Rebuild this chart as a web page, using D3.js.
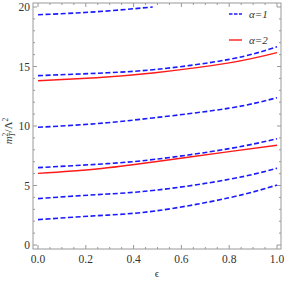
<!DOCTYPE html>
<html><head><meta charset="utf-8">
<script src="https://cdn.jsdelivr.net/npm/d3@7"></script>
<style>body{margin:0;background:#fff}svg{display:block}</style>
</head><body>
<script>
const eps = [0, 0.245, 0.49, 0.8, 1.0];
const a1_c1 = [2.13, 2.46, 2.86, 3.97, 5.04];
const a1_c2 = [3.9, 4.23, 4.6, 5.52, 6.45];
const a1_c3 = [6.5, 6.78, 7.2, 8.1, 8.93];
const a1_c4 = [9.89, 10.2, 10.7, 11.5, 12.38];
const a1_c5 = [14.23, 14.43, 14.75, 15.6, 16.66];
const a1_c6eps = [0, 0.245, 0.48];
const a1_c6 = [19.35, 19.6, 20.0];
const a2_c1 = [6.02, 6.39, 7.0, 7.85, 8.38];
const a2_c2 = [13.8, 14.06, 14.48, 15.3, 16.16];
const xTicks = [0, 0.2, 0.4, 0.6, 0.8, 1.0];
const yTicks = [0, 5, 10, 15, 20];

const W = 284, H = 282;
const svg = d3.select("body").append("svg").attr("width", W).attr("height", H);
const x = d3.scaleLinear().domain([0, 1]).range([38, 277]);
const y = d3.scaleLinear().domain([0, 20]).range([245, 7]);
const fL = 33, fR = 281, fT = 3, fB = 249;
const axCol = "#999";

svg.append("rect").attr("x", fL).attr("y", fT).attr("width", fR - fL).attr("height", fB - fT)
  .attr("fill", "none").attr("stroke", axCol).attr("stroke-width", 1);

const g = svg.append("g");
const xMinor = d3.range(0, 1.0001, 0.05);
xMinor.forEach(v => {
  const major = xTicks.some(t => Math.abs(t - v) < 1e-6);
  const len = major ? 4 : 2;
  g.append("line").attr("x1", x(v)).attr("x2", x(v)).attr("y1", fB).attr("y2", fB - len).attr("stroke", axCol);
  g.append("line").attr("x1", x(v)).attr("x2", x(v)).attr("y1", fT).attr("y2", fT + len).attr("stroke", axCol);
});
const yMinor = d3.range(0, 20.0001, 1);
yMinor.forEach(v => {
  const major = yTicks.includes(v);
  const len = major ? 4 : 2;
  g.append("line").attr("x1", fL).attr("x2", fL + len).attr("y1", y(v)).attr("y2", y(v)).attr("stroke", axCol);
  g.append("line").attr("x1", fR).attr("x2", fR - len).attr("y1", y(v)).attr("y2", y(v)).attr("stroke", axCol);
});
const font = "'Liberation Serif','DejaVu Serif',serif";
xTicks.forEach(t => {
  svg.append("text").attr("x", x(t)).attr("y", 263).attr("text-anchor", "middle")
    .attr("font-family", font).attr("font-size", 11.5).attr("fill", "#333").text(t.toFixed(1));
});
yTicks.forEach(t => {
  svg.append("text").attr("x", 30).attr("y", y(t) + 4).attr("text-anchor", "end")
    .attr("font-family", font).attr("font-size", 11.5).attr("fill", "#333").text(t);
});
svg.append("text").attr("x", 157).attr("y", 277).attr("text-anchor", "middle")
  .attr("font-family", font).attr("font-size", 11).attr("fill", "#333").text("ϵ");
const yl = svg.append("text").attr("transform", "translate(12,131) rotate(-90)").attr("text-anchor", "middle")
  .attr("font-family", font).attr("font-size", 11).attr("fill", "#333");
yl.append("tspan").attr("font-style", "italic").text("m");
yl.append("tspan").attr("font-size", 7.5).attr("dy", -4).text("2");
yl.append("tspan").attr("font-size", 7.5).attr("dx", -4).attr("dy", 7).attr("font-style", "italic").text("T");
yl.append("tspan").attr("dy", -3).text("/Λ");
yl.append("tspan").attr("font-size", 7.5).attr("dy", -4).text("2");

const line = d3.line().x(d => x(d[0])).y(d => y(d[1])).curve(d3.curveNatural);
const blue = "#1a1aff", red = "#ff1a1a";
function draw(xs, ys, col, dashed) {
  svg.append("path").datum(xs.map((e, i) => [e, ys[i]])).attr("d", line)
    .attr("fill", "none").attr("stroke", col).attr("stroke-width", dashed ? 1.6 : 1.4)
    .attr("stroke-dasharray", dashed ? "5,2.5" : null);
}
[a1_c1, a1_c2, a1_c3, a1_c4, a1_c5].forEach(s => draw(eps, s, blue, true));
draw(a1_c6eps, a1_c6, blue, true);
[a2_c1, a2_c2].forEach(s => draw(eps, s, red, false));

svg.append("line").attr("x1", 229).attr("x2", 242).attr("y1", 14).attr("y2", 14)
  .attr("stroke", blue).attr("stroke-width", 1.6).attr("stroke-dasharray", "3.5,1.5");
svg.append("line").attr("x1", 229).attr("x2", 242).attr("y1", 40).attr("y2", 40)
  .attr("stroke", red).attr("stroke-width", 1.4);
[["α=1", 18], ["α=2", 44]].forEach(([t, yy]) => {
  svg.append("text").attr("x", 249).attr("y", yy).attr("font-family", font)
    .attr("font-style", "italic").attr("font-size", 11).attr("fill", "#333").text(t);
});
</script>
</body></html>
